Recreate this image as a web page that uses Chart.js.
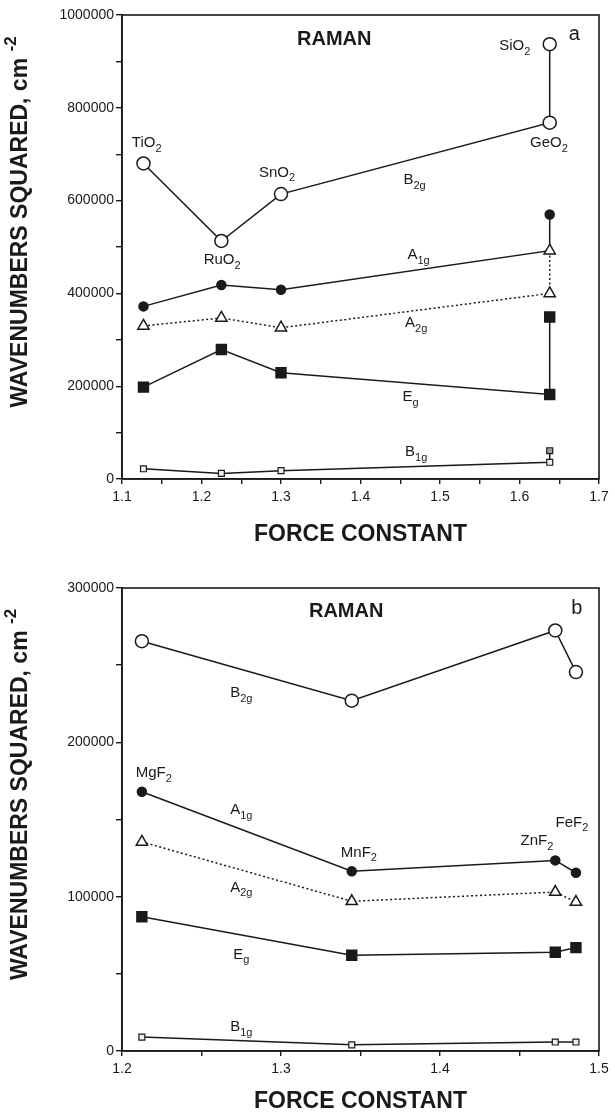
<!DOCTYPE html>
<html>
<head>
<meta charset="utf-8">
<script src="https://cdn.jsdelivr.net/npm/chart.js@4.4.1/dist/chart.umd.min.js"></script>
<style>
  html, body { margin: 0; padding: 0; background: #fff; }
  canvas { display: block; }
</style>
</head>
<body>
<canvas id="chartA" width="615" height="556"></canvas>
<canvas id="chartB" width="615" height="560"></canvas>
<script>
// panel a: oxides (force constant -> wavenumbers squared)
const xTop = [1.127, 1.225, 1.300, 1.638, 1.638];
const b2gTop = [680000, 513000, 614000, 768000, 937000];
const a1gTop = [372000, 418000, 408000, 492000, 570000];
const a2gTop = [330000, 347000, 326000, 400000, 492000];
const egTop = [198000, 279000, 229000, 182000, 349000];
const b1gTop = [22000, 12000, 18000, 36000, 61000];

// panel b: fluorides
const xBot = [1.2125, 1.3445, 1.4725, 1.4855];
const b2gBot = [265500, 227000, 272500, 245500];
const a1gBot = [168000, 116500, 123500, 115500];
const a2gBot = [135500, 97000, 103000, 96500];
const egBot = [87000, 62000, 64000, 67000];
const b1gBot = [9000, 4000, 5800, 5800];

// tick labels
const xLabelsTop = ["1.1", "1.2", "1.3", "1.4", "1.5", "1.6", "1.7"];
const yLabelsTop = ["0", "200000", "400000", "600000", "800000", "1000000"];
const xLabelsBot = ["1.2", "1.3", "1.4", "1.5"];
const yLabelsBot = ["0", "100000", "200000", "300000"];

const FONT = '"Liberation Sans", Arial, sans-serif';

function pts(xs, ys) {
  return ys.map((y, i) => ({ x: xs[i], y: y }));
}

// draws text where "_" starts a subscript and "^" a superscript (until space)
function drawRich(ctx, text, x, y, size, bold) {
  let parts = [];
  let mode = 0, cur = "";
  for (const ch of text) {
    if (ch == "_" || ch == "^") {
      if (cur) parts.push([cur, mode]);
      cur = ""; mode = ch == "_" ? 1 : 2;
    } else if (ch == " " && mode != 0) {
      if (cur) parts.push([cur, mode]);
      cur = " "; mode = 0;
    } else cur += ch;
  }
  if (cur) parts.push([cur, mode]);
  const big = (bold ? "bold " : "") + size + "px " + FONT;
  const small = (bold ? "bold " : "") + Math.round(size * 0.72) + "px " + FONT;
  let total = 0;
  parts.forEach(p => { ctx.font = p[1] ? small : big; p.push(ctx.measureText(p[0]).width); total += p[2]; });
  let cx = x - total / 2;
  ctx.fillStyle = "#1a1a1a";
  ctx.textAlign = "left";
  ctx.textBaseline = "middle";
  parts.forEach(p => {
    ctx.font = p[1] ? small : big;
    let dy = p[1] == 1 ? size * 0.38 : p[1] == 2 ? -size * 0.42 : 0;
    ctx.fillText(p[0], cx, y + dy);
    cx += p[2];
  });
}

function notesPlugin(notes) {
  return {
    id: "notes",
    afterDatasetsDraw(chart) {
      const ctx = chart.ctx, a = chart.chartArea;
      const xs = chart.scales.x, ys = chart.scales.y;
      ctx.save();
      ctx.strokeStyle = "#1a1a1a";
      ctx.lineWidth = 1.6;
      ctx.strokeRect(a.left, a.top, a.right - a.left, a.bottom - a.top);
      notes.forEach(n => drawRich(ctx, n.t, xs.getPixelForValue(n.x), ys.getPixelForValue(n.y), n.size || 15, n.bold));
      // y axis title with superscript
      ctx.translate(21, (a.top + a.bottom) / 2 - 25);
      ctx.rotate(-Math.PI / 2);
      drawRich(ctx, "WAVENUMBERS SQUARED, cm ^-2", 0, 0, 23, true);
      ctx.restore();
    }
  };
}

function makeDatasets(xs, b2g, a1g, a2g, eg, b1g, hideA1g, b1gFill) {
  const line = { showLine: true, borderColor: "#1a1a1a", borderWidth: 1.5, pointBorderColor: "#1a1a1a", pointBorderWidth: 1.5 };
  return [
    Object.assign({}, line, {
      label: "B2g", data: pts(xs, b2g), pointStyle: "circle", pointRadius: 6.5,
      pointBackgroundColor: "#fff"
    }),
    Object.assign({}, line, {
      label: "A2g", data: pts(xs, a2g), pointStyle: "triangle", pointRadius: 6.5,
      pointBackgroundColor: "#fff", borderDash: [2, 2.5]
    }),
    Object.assign({}, line, {
      label: "A1g", data: pts(xs, a1g), pointStyle: "circle",
      pointRadius: a1g.map((v, i) => i === hideA1g ? 0 : 4.5),
      pointBackgroundColor: "#1a1a1a"
    }),
    Object.assign({}, line, {
      label: "Eg", data: pts(xs, eg), pointStyle: "rect", pointRadius: 7,
      pointBackgroundColor: "#1a1a1a"
    }),
    Object.assign({}, line, {
      label: "B1g", data: pts(xs, b1g), pointStyle: "rect", pointRadius: 4.2,
      pointBorderWidth: 1.2, pointBackgroundColor: b1gFill
    })
  ];
}

function makeOptions(xMin, xMax, xLabels, yMax, yStep, yLabels, padTop, xHeight, titlePad) {
  const tickFont = { family: FONT, size: 14 };
  return {
    responsive: false,
    animation: false,
    layout: { padding: { top: padTop, right: 16, left: 0, bottom: 0 } },
    plugins: { legend: { display: false }, tooltip: { enabled: false } },
    elements: { line: { tension: 0 } },
    scales: {
      x: {
        type: "linear", min: xMin, max: xMax,
        afterFit: s => { s.height = xHeight; },
        ticks: {
          stepSize: 0.05, color: "#1a1a1a", font: tickFont, maxRotation: 0, autoSkip: false, padding: 5,
          callback: v => { const s = v.toFixed(1); return (Math.abs(v * 10 - Math.round(v * 10)) < 1e-6 && xLabels.includes(s)) ? s : ""; }
        },
        grid: { drawOnChartArea: false, color: "#1a1a1a", tickLength: 5, lineWidth: 1.4 },
        border: { color: "#1a1a1a", width: 1.6 },
        title: {
          display: true, text: "FORCE CONSTANT", color: "#1a1a1a",
          font: { family: FONT, size: 23, weight: "bold" }, padding: { top: 0, bottom: titlePad }
        }
      },
      y: {
        type: "linear", min: 0, max: yMax,
        afterFit: s => { s.width = 122; },
        ticks: {
          stepSize: yStep / 2, color: "#1a1a1a", font: tickFont, padding: 2,
          callback: v => yLabels.includes(String(v)) ? String(v) : ""
        },
        grid: { drawOnChartArea: false, color: "#1a1a1a", tickLength: 6, lineWidth: 1.4 },
        border: { color: "#1a1a1a", width: 1.6 }
      }
    }
  };
}

const notesA = [
  { t: "RAMAN", x: 1.367, y: 948000, bold: true, size: 20 },
  { t: "a", x: 1.669, y: 957000, size: 20 },
  { t: "SiO_2", x: 1.594, y: 933000 },
  { t: "TiO_2", x: 1.131, y: 724000 },
  { t: "GeO_2", x: 1.637, y: 724000 },
  { t: "SnO_2", x: 1.295, y: 660000 },
  { t: "RuO_2", x: 1.226, y: 472000 },
  { t: "B_2g", x: 1.468, y: 644000 },
  { t: "A_1g", x: 1.473, y: 483000 },
  { t: "A_2g", x: 1.470, y: 336000 },
  { t: "E_g", x: 1.463, y: 177000 },
  { t: "B_1g", x: 1.470, y: 58000 }
];

const notesB = [
  { t: "RAMAN", x: 1.341, y: 284500, bold: true, size: 20 },
  { t: "b", x: 1.486, y: 287000, size: 20 },
  { t: "B_2g", x: 1.275, y: 232000 },
  { t: "MgF_2", x: 1.220, y: 180000 },
  { t: "A_1g", x: 1.275, y: 156000 },
  { t: "MnF_2", x: 1.349, y: 128500 },
  { t: "ZnF_2", x: 1.461, y: 136000 },
  { t: "FeF_2", x: 1.483, y: 148000 },
  { t: "A_2g", x: 1.275, y: 106000 },
  { t: "E_g", x: 1.275, y: 62500 },
  { t: "B_1g", x: 1.275, y: 15400 }
];

new Chart(document.getElementById("chartA").getContext("2d"), {
  type: "scatter",
  data: { datasets: makeDatasets(xTop, b2gTop, a1gTop, a2gTop, egTop, b1gTop, 3, ["#eee", "#eee", "#eee", "#eee", "#999"]) },
  options: makeOptions(1.1, 1.7, xLabelsTop, 1000000, 200000, yLabelsTop, 15, 556 - 479, 8),
  plugins: [notesPlugin(notesA)]
});

new Chart(document.getElementById("chartB").getContext("2d"), {
  type: "scatter",
  data: { datasets: makeDatasets(xBot, b2gBot, a1gBot, a2gBot, egBot, b1gBot, -1, "#eee") },
  options: makeOptions(1.2, 1.5, xLabelsBot, 300000, 100000, yLabelsBot, 32, 560 - 495, 1),
  plugins: [notesPlugin(notesB)]
});
</script>
</body>
</html>
